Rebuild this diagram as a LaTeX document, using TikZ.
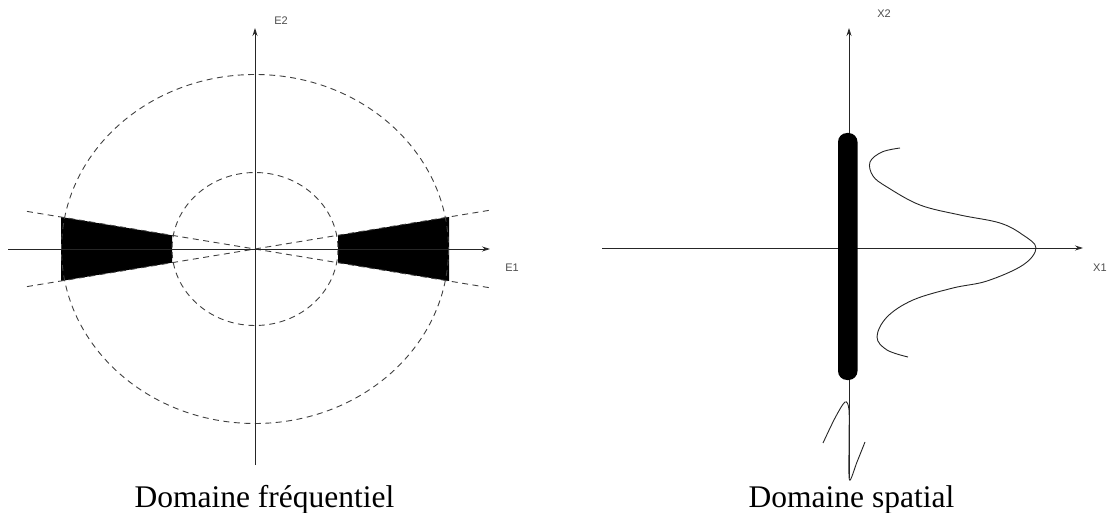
\documentclass[tikz,border=0pt]{standalone}
\usepackage{fontspec}
\setmainfont{Liberation Serif}
\newfontfamily\labfont{Liberation Sans}
\usetikzlibrary{arrows.meta}
\begin{document}
\begin{tikzpicture}[x=1pt,y=-1pt,
  axis/.style={line width=0.8pt,black!85,-{Stealth[length=8pt,width=5pt]}},
  dashline/.style={line width=0.9pt,black!75,dash pattern=on 6pt off 4.5pt},
  thinline/.style={line width=0.9pt,black!85},
  lab/.style={font=\labfont\fontsize{11}{12}\selectfont,text=black!70,inner sep=0pt},
  caption/.style={font=\fontsize{31.5}{34}\selectfont,inner sep=0pt,anchor=base}]
\useasboundingbox (0,0) rectangle (1112,513);
% ---------- frequency domain ----------
\coordinate (O) at (255,249);
\fill[black] (61,217) -- (172,235.3) -- (172,262.7) -- (61,281) -- cycle;
\fill[black] (449,217) -- (338,235.3) -- (338,262.7) -- (449,281) -- cycle;
\draw[dashline] (O) ellipse [x radius=193.5, y radius=174.5];
\draw[dashline] (O) ellipse [x radius=83, y radius=76.5];
\coordinate (l1a) at (27,211.4);
\coordinate (l1b) at (490,287.8);
\coordinate (l2a) at (27,286.6);
\coordinate (l2b) at (490,210.2);
\draw[dashline] (l1a) -- (l1b);
\draw[dashline] (l2a) -- (l2b);
\coordinate (e1s) at (8,249);
\coordinate (e1e) at (490,249);
\coordinate (e2s) at (255,465);
\coordinate (e2e) at (255,28);
\draw[axis] (e1s) -- (e1e);
\draw[axis] (e2s) -- (e2e);
\node[lab] (E2) at (281,21) {E2};
\node[lab] (E1) at (512,268) {E1};
% ---------- spatial domain ----------
\coordinate (x1s) at (602,248);
\coordinate (x1e) at (1083,248);
\coordinate (x2s) at (849,478);
\coordinate (x2e) at (849,28);
\draw[axis] (x1s) -- (x1e);
\draw[axis] (x2s) -- (x2e);
\fill[black, rounded corners=9pt] (838,133) rectangle (857.5,380);
\draw[thinline] plot[smooth, tension=0.6] coordinates {
  (900,148) (882,152) (870,162) (873,176) (887,187) (920,205) (960,215)
  (1000,223) (1023,235) (1036,248) (1023,265) (987,281) (953,288)
  (913,300) (887,317) (877,337) (887,350) (908,357)};
\draw[thinline] plot[smooth, tension=0.5] coordinates {
  (823,443) (835,418) (845,402) (849,410) (849,445) (849.5,480) (857,462) (865,442)};
\node[lab] (X2) at (884,14) {X2};
\node[lab, anchor=west] (X1) at (1093,268) {X1};
% ---------- captions ----------
\node[caption] (c1) at (264.5,507) {Domaine fréquentiel};
\node[caption] (c2) at (851.5,507) {Domaine spatial};
\end{tikzpicture}
\end{document}
